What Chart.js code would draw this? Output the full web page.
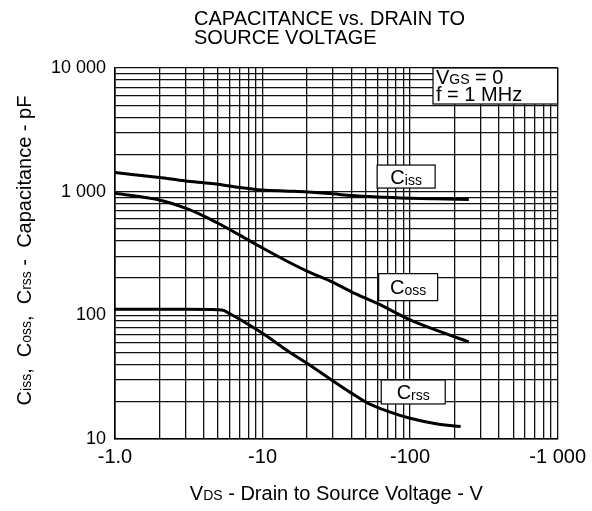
<!DOCTYPE html>
<html>
<head>
<meta charset="utf-8">
<script src="https://cdn.jsdelivr.net/npm/chart.js@4"></script>
<style>
  html, body { margin: 0; padding: 0; background: #fff; }
  #wrap { width: 592px; height: 511px; }
</style>
</head>
<body>
<div id="wrap"><canvas id="capchart" width="592" height="511"></canvas></div>
<script>
// values (|VDS| in volts, capacitance in pF)
const vds = [1, 2, 3, 4, 5, 7, 10, 15, 20, 30, 40, 60, 100, 150, 250];
const ciss = [1430, 1300, 1220, 1180, 1150, 1080, 1030, 1010, 995, 960, 930, 905, 885, 875, 865];
const coss = [970, 855, 735, 635, 555, 445, 350, 270, 228, 185, 155, 125, 92, 76, 61];
const vdsCrss = [1, 2, 3, 5, 5.5, 6, 7, 10, 15, 20, 30, 40, 52, 70, 100, 150, 220];
const crss = [112, 112, 112, 111, 109, 103, 93, 71.5, 51, 41, 29.5, 23.5, 19.4, 16.8, 14.7, 13.3, 12.6];

// grid / tick labels
const decadesX = [1, 10, 100];
const decadesY = [10, 100, 1000];
const xLabels = { 1: '-1.0', 10: '-10', 100: '-100', 1000: '-1 000' };
const yLabels = { 10: '10', 100: '100', 1000: '1 000', 10000: '10 000' };

function logGrid(decs) {
  var out = [];
  decs.forEach(function (d) {
    for (var m = 1; m < 10; m++) out.push(d * m);
  });
  out.push(decs[decs.length - 1] * 10);
  return out;
}

function pts(xs, ys) {
  return xs.map(function (x, i) { return { x: x, y: ys[i] }; });
}

var FONT = '"Liberation Sans", Arial, Helvetica, sans-serif';

// text with small subscript parts
function richWidth(ctx, parts) {
  var w = 0;
  parts.forEach(function (p) {
    ctx.font = p[1] + 'px ' + FONT;
    w += ctx.measureText(p[0]).width;
  });
  return w;
}
function drawRich(ctx, parts, x, y) {
  parts.forEach(function (p) {
    ctx.font = p[1] + 'px ' + FONT;
    ctx.fillText(p[0], x, y + (p[2] || 0));
    x += ctx.measureText(p[0]).width;
  });
}

// curve labels, anchored in data units
const curveTags = [
  { parts: [['C', 20], ['iss', 14, 1]], v: 94, c: 1325, w: 58, h: 23 },
  { parts: [['C', 20], ['oss', 14, 1]], v: 97, c: 169, w: 59, h: 27 },
  { parts: [['C', 20], ['rss', 14, 1]], v: 105, c: 24, w: 64, h: 24 }
];

var textPlugin = {
  id: 'sheetText',
  afterDraw: function (chart) {
    var ctx = chart.ctx;
    var xs = chart.scales.x, ys = chart.scales.y;
    var area = chart.chartArea;
    ctx.save();
    ctx.fillStyle = '#000';
    ctx.textBaseline = 'alphabetic';

    // title
    ctx.font = '20px ' + FONT;
    ctx.fillText('CAPACITANCE vs. DRAIN TO', 194, 25);
    ctx.fillText('SOURCE VOLTAGE', 194, 44);

    // curve tags
    curveTags.forEach(function (t) {
      var cx = xs.getPixelForValue(t.v), cy = ys.getPixelForValue(t.c);
      ctx.fillStyle = '#fff';
      ctx.fillRect(cx - t.w / 2, cy - t.h / 2, t.w, t.h);
      ctx.strokeStyle = '#000';
      ctx.lineWidth = 1.2;
      ctx.strokeRect(cx - t.w / 2, cy - t.h / 2, t.w, t.h);
      ctx.fillStyle = '#000';
      var w = richWidth(ctx, t.parts);
      drawRich(ctx, t.parts, cx - w / 2, cy + 7);
    });

    // conditions box
    var bx = 433, by = area.top, bw = area.right - 433, bh = 36;
    ctx.fillStyle = '#fff';
    ctx.fillRect(bx, by, bw, bh);
    ctx.strokeStyle = '#000';
    ctx.lineWidth = 1.2;
    ctx.strokeRect(bx, by, bw, bh);
    ctx.fillStyle = '#000';
    drawRich(ctx, [['V', 20], ['GS', 14], [' = 0', 20]], 436, by + 16);
    drawRich(ctx, [['f = 1 MHz', 20]], 436, by + 33);

    // x axis title
    var xt = [['V', 20], ['DS', 14], [' - Drain to Source Voltage - V', 20]];
    var xw = richWidth(ctx, xt);
    drawRich(ctx, xt, (area.left + area.right) / 2 - xw / 2, 500);

    // y axis title
    var yt = [['C', 20], ['iss', 14], [',  C', 20], ['oss', 14], [',  C', 20], ['rss', 14], [' -  Capacitance - pF', 20]];
    var yw = richWidth(ctx, yt);
    ctx.translate(31, (area.top + area.bottom) / 2 - 3);
    ctx.rotate(-Math.PI / 2);
    drawRich(ctx, yt, -yw / 2, 0);
    ctx.restore();
  }
};

var lineStyle = {
  borderColor: '#000',
  borderWidth: 3,
  pointRadius: 0,
  fill: false,
  tension: 0.25,
  cubicInterpolationMode: 'monotone'
};

new Chart(document.getElementById('capchart'), {
  type: 'line',
  data: {
    datasets: [
      Object.assign({ label: 'Ciss', data: pts(vds, ciss) }, lineStyle),
      Object.assign({ label: 'Coss', data: pts(vds, coss) }, lineStyle),
      Object.assign({ label: 'Crss', data: pts(vdsCrss, crss) }, lineStyle)
    ]
  },
  options: {
    responsive: false,
    animation: false,
    events: [],
    layout: { padding: { left: 0, right: 32, top: 68, bottom: 0 } },
    plugins: {
      legend: { display: false },
      tooltip: { enabled: false },
      title: { display: false }
    },
    scales: {
      x: {
        type: 'logarithmic',
        min: 1,
        max: 1000,
        afterBuildTicks: function (scale) {
          scale.ticks = logGrid(decadesX).map(function (v) { return { value: v }; });
        },
        afterFit: function (scale) { scale.height = 72; },
        grid: { color: '#111', lineWidth: 1.3, drawTicks: false },
        border: { color: '#000', width: 1.6 },
        ticks: {
          autoSkip: false,
          maxRotation: 0,
          padding: 6,
          color: '#000',
          font: { family: FONT, size: 20 },
          callback: function (v) { return xLabels[v] || ''; }
        }
      },
      y: {
        type: 'logarithmic',
        min: 10,
        max: 10000,
        afterBuildTicks: function (scale) {
          scale.ticks = logGrid(decadesY).map(function (v) { return { value: v }; });
        },
        afterFit: function (scale) { scale.width = 115; },
        grid: { color: '#111', lineWidth: 1.3, drawTicks: false },
        border: { color: '#000', width: 1.6 },
        ticks: {
          autoSkip: false,
          padding: 9,
          color: '#000',
          font: { family: FONT, size: 18 },
          callback: function (v) { return yLabels[v] || ''; }
        }
      }
    }
  },
  plugins: [textPlugin]
});
</script>
</body>
</html>
